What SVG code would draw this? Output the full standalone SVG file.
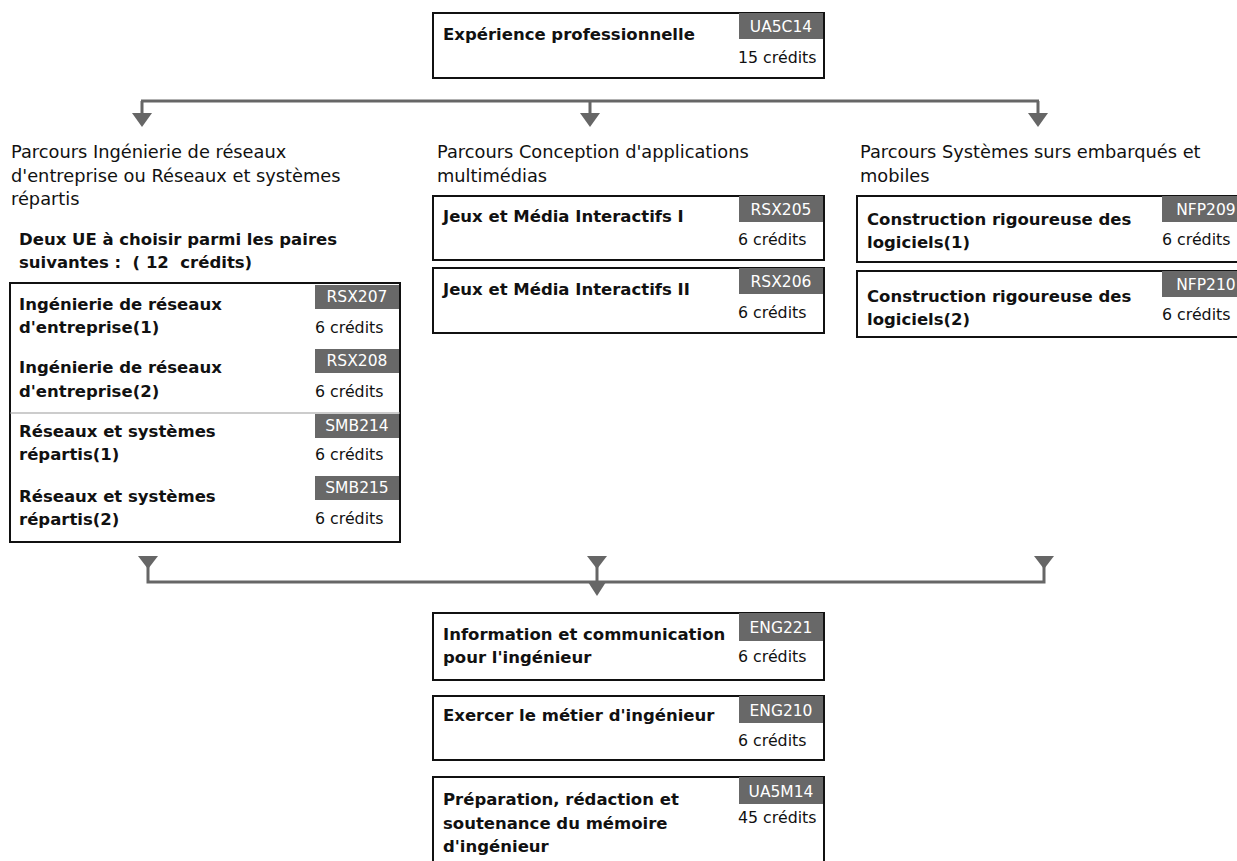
<svg xmlns="http://www.w3.org/2000/svg" width="1237" height="861" viewBox="0 0 1237 861">
<style>
.box{fill:#fff;stroke:#111;stroke-width:2}
.tag{fill:#686868}
.tt{font-family:"DejaVu Sans",sans-serif;font-size:15.5px;fill:#fff;text-anchor:middle}
.ti{font-family:"DejaVu Sans",sans-serif;font-size:16.5px;font-weight:bold;fill:#111}
.cr{font-family:"DejaVu Sans",sans-serif;font-size:15.8px;fill:#111}
.lb{font-family:"DejaVu Sans",sans-serif;font-size:17.8px;fill:#111}
.ln{fill:none;stroke:#666;stroke-width:3}
.ah{fill:#666}
.sep{stroke:#999;stroke-width:1}
</style>
<rect width="1237" height="861" fill="#fff"/>
<g id="connectors">
<path class="ln" d="M141 101H1039M142 101V115M590 101V115M1038 101V115"/>
<polygon class="ah" points="132,113 152,113 142,127"/>
<polygon class="ah" points="580,113 600,113 590,127"/>
<polygon class="ah" points="1028,113 1048,113 1038,127"/>
<path class="ln" d="M148 566V582H1044V566M597 566V585"/>
<polygon class="ah" points="138,556 158,556 148,569"/>
<polygon class="ah" points="587,556 607,556 597,569"/>
<polygon class="ah" points="1034,556 1054,556 1044,569"/>
<polygon class="ah" points="588,582 606,582 597,596"/>
</g>
<g id="n-exp">
<rect class="box" x="433" y="13" width="391" height="65"/>
<rect class="tag" x="739" y="13" width="84" height="26"/>
<text class="tt" x="781" y="32">UA5C14</text>
<text class="ti" x="443" y="40">Expérience professionnelle</text>
<text class="cr" x="738" y="63">15 crédits</text>
</g>
<g id="lbl-reseaux">
<text class="lb" x="11" y="158">Parcours Ingénierie de réseaux</text>
<text class="lb" x="11" y="182">d'entreprise ou Réseaux et systèmes</text>
<text class="lb" x="11" y="205">répartis</text>
</g>
<g id="lbl-multimedia">
<text class="lb" x="437" y="158">Parcours Conception d'applications</text>
<text class="lb" x="437" y="182">multimédias</text>
</g>
<g id="lbl-embarques">
<text class="lb" x="860" y="158">Parcours Systèmes surs embarqués et</text>
<text class="lb" x="860" y="182">mobiles</text>
</g>
<g id="hdr-choix">
<text class="ti" x="19" y="245">Deux UE à choisir parmi les paires</text>
<text class="ti" x="19" y="268" xml:space="preserve">suivantes :  ( 12  crédits)</text>
</g>
<g id="n-choix">
<rect class="box" x="10" y="283" width="390" height="259"/>
<line class="sep" x1="10" y1="413" x2="400" y2="413"/>
<rect class="tag" x="315" y="285" width="84" height="24"/>
<text class="tt" x="357" y="302">RSX207</text>
<text class="ti" x="19" y="310">Ingénierie de réseaux</text>
<text class="ti" x="19" y="333">d'entreprise(1)</text>
<text class="cr" x="315" y="333">6 crédits</text>
<rect class="tag" x="315" y="349" width="84" height="24"/>
<text class="tt" x="357" y="366">RSX208</text>
<text class="ti" x="19" y="373">Ingénierie de réseaux</text>
<text class="ti" x="19" y="397">d'entreprise(2)</text>
<text class="cr" x="315" y="397">6 crédits</text>
<rect class="tag" x="315" y="414" width="84" height="24"/>
<text class="tt" x="357" y="431">SMB214</text>
<text class="ti" x="19" y="437">Réseaux et systèmes</text>
<text class="ti" x="19" y="460">répartis(1)</text>
<text class="cr" x="315" y="460">6 crédits</text>
<rect class="tag" x="315" y="476" width="84" height="24"/>
<text class="tt" x="357" y="493">SMB215</text>
<text class="ti" x="19" y="502">Réseaux et systèmes</text>
<text class="ti" x="19" y="525">répartis(2)</text>
<text class="cr" x="315" y="524">6 crédits</text>
</g>
<g id="n-rsx205">
<rect class="box" x="433" y="196" width="391" height="64"/>
<rect class="tag" x="739" y="196" width="84" height="26"/>
<text class="tt" x="781" y="215">RSX205</text>
<text class="ti" x="443" y="222">Jeux et Média Interactifs I</text>
<text class="cr" x="738" y="245">6 crédits</text>
</g>
<g id="n-rsx206">
<rect class="box" x="433" y="268" width="391" height="65"/>
<rect class="tag" x="739" y="268" width="84" height="26"/>
<text class="tt" x="781" y="287">RSX206</text>
<text class="ti" x="443" y="295">Jeux et Média Interactifs II</text>
<text class="cr" x="738" y="318">6 crédits</text>
</g>
<g id="n-nfp209">
<rect class="box" x="857" y="196" width="392" height="66"/>
<rect class="tag" x="1162" y="196" width="86" height="26"/>
<text class="tt" x="1206" y="215">NFP209</text>
<text class="ti" x="867" y="225">Construction rigoureuse des</text>
<text class="ti" x="867" y="248">logiciels(1)</text>
<text class="cr" x="1162" y="245">6 crédits</text>
</g>
<g id="n-nfp210">
<rect class="box" x="857" y="271" width="392" height="66"/>
<rect class="tag" x="1162" y="271" width="86" height="26"/>
<text class="tt" x="1206" y="290">NFP210</text>
<text class="ti" x="867" y="302">Construction rigoureuse des</text>
<text class="ti" x="867" y="325">logiciels(2)</text>
<text class="cr" x="1162" y="320">6 crédits</text>
</g>
<g id="n-eng221">
<rect class="box" x="433" y="613" width="391" height="67"/>
<rect class="tag" x="739" y="613" width="84" height="28"/>
<text class="tt" x="781" y="633">ENG221</text>
<text class="ti" x="443" y="640">Information et communication</text>
<text class="ti" x="443" y="663">pour l'ingénieur</text>
<text class="cr" x="738" y="662">6 crédits</text>
</g>
<g id="n-eng210">
<rect class="box" x="433" y="696" width="391" height="64"/>
<rect class="tag" x="739" y="696" width="84" height="27"/>
<text class="tt" x="781" y="716">ENG210</text>
<text class="ti" x="443" y="721">Exercer le métier d'ingénieur</text>
<text class="cr" x="738" y="746">6 crédits</text>
</g>
<g id="n-ua5m14">
<rect class="box" x="433" y="777" width="391" height="100"/>
<rect class="tag" x="739" y="777" width="84" height="27"/>
<text class="tt" x="781" y="797">UA5M14</text>
<text class="ti" x="443" y="805">Préparation, rédaction et</text>
<text class="ti" x="443" y="829">soutenance du mémoire</text>
<text class="ti" x="443" y="852">d'ingénieur</text>
<text class="cr" x="738" y="823">45 crédits</text>
</g>
</svg>
